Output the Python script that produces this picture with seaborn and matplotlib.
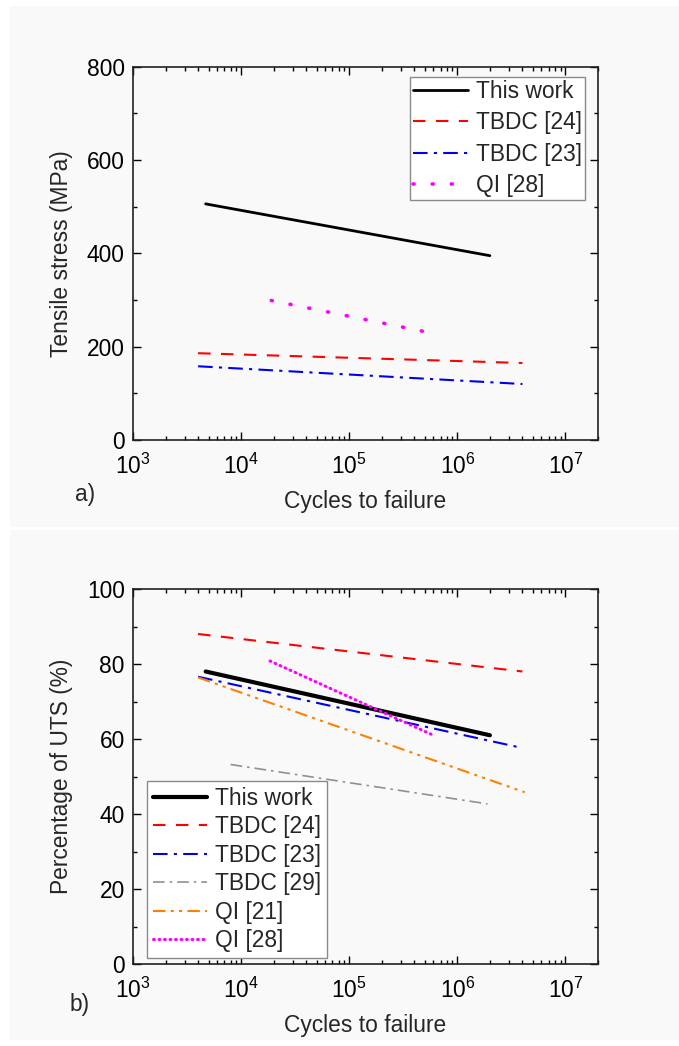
import numpy as np
import pandas as pd
import matplotlib
matplotlib.use("Agg")
import matplotlib.pyplot as plt
import seaborn as sns
from matplotlib.patches import Rectangle
from matplotlib.ticker import LogLocator, MultipleLocator, NullFormatter

# ---------------- data ----------------
labels_a = ["This work", "TBDC [24]", "TBDC [23]", "QI [28]"]
cycles_a = [[4.7e3, 2.0e6], [4.0e3, 4.0e6], [4.0e3, 4.0e6], [1.9e4, 5.6e5]]
stress_a = [[506, 395], [186, 165], [158, 120], [299, 230]]

labels_b = ["This work", "TBDC [24]", "TBDC [23]", "TBDC [29]", "QI [21]", "QI [28]"]
cycles_b = [[4.7e3, 2.0e6], [4.0e3, 4.0e6], [4.0e3, 4.0e6], [8.0e3, 1.9e6],
            [4.0e3, 4.2e6], [1.85e4, 6.0e5]]
uts_b = [[78, 61], [88, 78], [76.6, 57.6], [53.2, 42.7], [76.4, 45.8], [80.8, 61]]

xticks = [1e3, 1e4, 1e5, 1e6, 1e7]
xticklabels = [r"$10^{3}$", r"$10^{4}$", r"$10^{5}$", r"$10^{6}$", r"$10^{7}$"]

# ---------------- styles ----------------
styles = {
    "This work": dict(color="black", ls="-"),
    "TBDC [24]": dict(color="#ff0000", ls=(0, (6, 5))),
    "TBDC [23]": dict(color="#0000ee", ls=(0, (7, 3, 1.5, 3))),
    "TBDC [29]": dict(color="#909090", ls=(0, (7, 3, 1.5, 3))),
    "QI [21]": dict(color="#ff8000", ls=(0, (6, 2.5, 1.5, 2.5, 1.5, 2.5))),
    "QI [28]": dict(color="#ff00ff", ls=(0, (1, 4))),
}

sns.set_theme(style="ticks")
plt.rcParams["font.family"] = ["Liberation Sans", "DejaVu Sans"]
plt.rcParams["mathtext.fontset"] = "custom"
plt.rcParams["mathtext.rm"] = "Liberation Sans"
plt.rcParams["mathtext.it"] = "Liberation Sans"
plt.rcParams["mathtext.default"] = "rm"

FS = 16.4
fig = plt.figure(figsize=(6.79, 10.46), dpi=100, facecolor="white")

W, H = 679, 1046
bg = "#f9f9f9"
fig.patches.append(Rectangle((10 / W, 1 - 527 / H), 1 - 10 / W, (527 - 6) / H,
                             transform=fig.transFigure, facecolor=bg, edgecolor="none", zorder=-10))
fig.patches.append(Rectangle((10 / W, 1 - 1040 / H), 1 - 10 / W, (1040 - 530) / H,
                             transform=fig.transFigure, facecolor=bg, edgecolor="none", zorder=-10))

L, R = 133 / W, 598 / W
ax_a = fig.add_axes([L, 1 - 440 / H, R - L, (440 - 66.7) / H])
ax_b = fig.add_axes([L, 1 - 964 / H, R - L, (964 - 589) / H])


def draw(ax, labels, xs, ys, thick_lw, lw, dot_ls, dot_lw):
    for lab, x, y in zip(labels, xs, ys):
        df = pd.DataFrame({"x": x, "y": y})
        st = dict(styles[lab])
        w = thick_lw if lab == "This work" else lw
        if lab == "QI [28]":
            st["ls"] = dot_ls
            w = dot_lw
        if lab == "TBDC [29]":
            w = lw * 0.8
        sns.lineplot(data=df, x="x", y="y", ax=ax, color=st["color"],
                     linestyle=st["ls"], linewidth=w, label=lab, estimator=None,
                     sort=False, dash_capstyle="round" if lab == "QI [28]" else "butt")


draw(ax_a, labels_a, cycles_a, stress_a, 2.0, 1.5, (0, (0.3, 5.0)), 2.6)
draw(ax_b, labels_b, cycles_b, uts_b, 3.0, 1.5, (0, (0.3, 1.5)), 2.2)

for ax in (ax_a, ax_b):
    ax.set_facecolor("none")
    ax.set_xscale("log")
    ax.set_xlim(1e3, 2e7)
    ax.set_xticks(xticks)
    ax.set_xticklabels(xticklabels)
    ax.xaxis.set_minor_locator(LogLocator(base=10, subs=np.arange(2, 10), numticks=20))
    ax.xaxis.set_minor_formatter(NullFormatter())
    ax.tick_params(which="both", direction="in", top=True, right=True,
                   labelsize=FS, colors="black", width=1.0)
    ax.tick_params(axis="y", pad=6)
    ax.tick_params(axis="x", pad=10)
    ax.tick_params(which="major", length=6)
    ax.tick_params(which="minor", length=3)
    for s in ax.spines.values():
        s.set_color("#222222")
        s.set_linewidth(1.2)
    ax.set_xlabel("Cycles to failure", fontsize=FS, labelpad=8)

ax_a.set_ylim(0, 800)
ax_a.yaxis.set_major_locator(MultipleLocator(200))
ax_a.yaxis.set_minor_locator(MultipleLocator(100))
ax_a.set_ylabel("Tensile stress (MPa)", fontsize=FS, labelpad=10)

ax_b.set_ylim(0, 100)
ax_b.yaxis.set_major_locator(MultipleLocator(20))
ax_b.yaxis.set_minor_locator(MultipleLocator(10))
ax_b.set_ylabel("Percentage of UTS (%)", fontsize=FS, labelpad=10)

leg_a = ax_a.legend(loc="upper right", bbox_to_anchor=(0.972, 0.973), borderaxespad=0,
                    fontsize=FS, frameon=True, fancybox=False, handlelength=2.4,
                    handletextpad=0.35, labelspacing=0.36, borderpad=0.15)
leg_b = ax_b.legend(loc="lower left", bbox_to_anchor=(0.03, 0.016), borderaxespad=0,
                    fontsize=FS, frameon=True, fancybox=False, handlelength=2.4,
                    handletextpad=0.35, labelspacing=0.24, borderpad=0.25)
for leg in (leg_a, leg_b):
    fr = leg.get_frame()
    fr.set_edgecolor("#8a8a8a")
    fr.set_linewidth(1.0)
    fr.set_facecolor("white")
    fr.set_alpha(1)

fig.text(75 / W, 1 - 495 / H, "a)", fontsize=FS, va="center", ha="left")
fig.text(70 / W, 1 - 1005 / H, "b)", fontsize=FS, va="center", ha="left")

fig.savefig("out.png", dpi=100, facecolor="white")
